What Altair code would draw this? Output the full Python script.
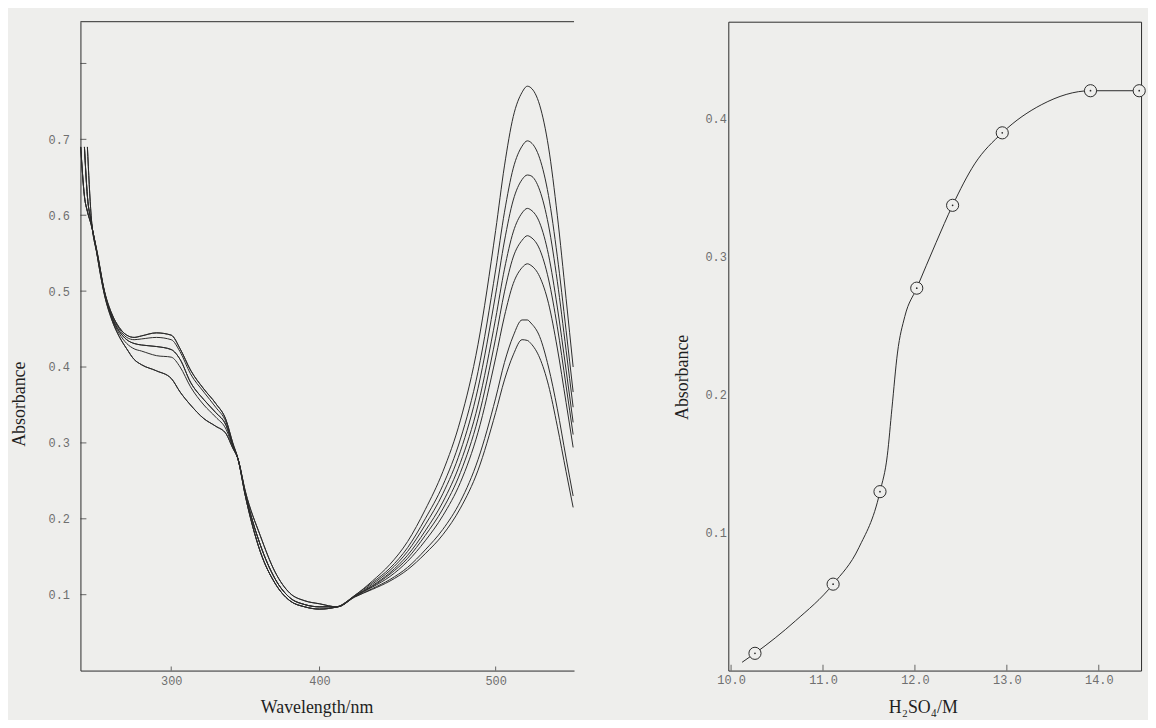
import altair as alt
import pandas as pd

# ---------------- left panel: absorption spectra ----------------
WAVELENGTH = [239, 241.5, 243.5, 246, 250, 255, 260, 265, 270, 275, 280, 290, 300, 306, 313,
              322, 330, 337, 341.5, 345, 350, 360, 370, 380, 390, 400, 410, 420, 430, 440,
              450, 460, 470, 480, 490, 500, 505, 510, 515, 518, 520, 525, 530, 535, 540, 544]

SPEC_1 = [0.690, 0.625, 0.605, 0.588, 0.552, 0.500, 0.470, 0.452, 0.442, 0.439, 0.441, 0.445, 0.442, 0.424, 0.396,
          0.371, 0.352, 0.330, 0.300, 0.279, 0.230, 0.157, 0.115, 0.092, 0.084, 0.081, 0.084, 0.099, 0.118, 0.140,
          0.170, 0.212, 0.262, 0.330, 0.430, 0.580, 0.665, 0.730, 0.762, 0.770, 0.768, 0.745, 0.690, 0.600, 0.490, 0.400]
SPEC_2 = [0.690, 0.625, 0.605, 0.588, 0.552, 0.500, 0.470, 0.452, 0.442, 0.439, 0.441, 0.445, 0.442, 0.424, 0.396,
          0.371, 0.352, 0.330, 0.300, 0.279, 0.230, 0.157, 0.115, 0.092, 0.084, 0.081, 0.084, 0.099, 0.116, 0.135,
          0.162, 0.200, 0.244, 0.305, 0.394, 0.528, 0.604, 0.662, 0.691, 0.698, 0.696, 0.675, 0.626, 0.546, 0.448, 0.367]
SPEC_3 = [0.690, 0.625, 0.605, 0.588, 0.551, 0.499, 0.468, 0.450, 0.439, 0.436, 0.437, 0.439, 0.436, 0.420, 0.391,
          0.367, 0.347, 0.327, 0.298, 0.279, 0.230, 0.157, 0.115, 0.092, 0.084, 0.081, 0.084, 0.098, 0.114, 0.132,
          0.157, 0.192, 0.233, 0.289, 0.372, 0.496, 0.566, 0.620, 0.647, 0.653, 0.652, 0.633, 0.587, 0.513, 0.422, 0.347]
SPEC_4 = [None, 0.690, 0.625, 0.592, 0.550, 0.498, 0.466, 0.447, 0.436, 0.431, 0.429, 0.427, 0.423, 0.410, 0.380,
          0.357, 0.340, 0.323, 0.297, 0.279, 0.233, 0.166, 0.121, 0.096, 0.087, 0.084, 0.084, 0.098, 0.112, 0.129,
          0.152, 0.184, 0.222, 0.274, 0.350, 0.464, 0.529, 0.578, 0.603, 0.609, 0.607, 0.590, 0.548, 0.479, 0.396, 0.327]
SPEC_5 = [None, 0.690, 0.625, 0.592, 0.550, 0.498, 0.466, 0.447, 0.436, 0.431, 0.429, 0.427, 0.423, 0.410, 0.380,
          0.357, 0.340, 0.323, 0.297, 0.279, 0.233, 0.166, 0.121, 0.096, 0.087, 0.084, 0.084, 0.098, 0.111, 0.127,
          0.148, 0.178, 0.213, 0.261, 0.332, 0.438, 0.499, 0.545, 0.567, 0.573, 0.571, 0.555, 0.516, 0.453, 0.375, 0.311]
SPEC_6 = [None, 0.690, 0.625, 0.592, 0.549, 0.497, 0.464, 0.444, 0.431, 0.424, 0.421, 0.415, 0.413, 0.400, 0.374,
          0.350, 0.334, 0.318, 0.295, 0.279, 0.233, 0.166, 0.121, 0.096, 0.087, 0.084, 0.084, 0.098, 0.110, 0.124,
          0.144, 0.171, 0.204, 0.248, 0.314, 0.412, 0.467, 0.510, 0.531, 0.536, 0.534, 0.519, 0.484, 0.425, 0.353, 0.294]
SPEC_7 = [None, None, 0.690, 0.600, 0.548, 0.495, 0.462, 0.440, 0.424, 0.410, 0.403, 0.395, 0.385, 0.367, 0.350,
          0.332, 0.322, 0.312, 0.293, 0.279, 0.236, 0.178, 0.130, 0.102, 0.092, 0.088, 0.084, 0.097, 0.108, 0.120,
          0.136, 0.159, 0.186, 0.223, 0.278, 0.359, 0.406, 0.441, 0.462, 0.462, 0.458, 0.440, 0.400, 0.345, 0.280, 0.230]
SPEC_8 = [None, None, 0.690, 0.600, 0.548, 0.495, 0.462, 0.440, 0.424, 0.410, 0.403, 0.395, 0.385, 0.367, 0.350,
          0.332, 0.322, 0.312, 0.293, 0.279, 0.236, 0.178, 0.130, 0.102, 0.092, 0.088, 0.084, 0.097, 0.107, 0.118,
          0.133, 0.154, 0.179, 0.214, 0.264, 0.340, 0.383, 0.416, 0.436, 0.435, 0.431, 0.412, 0.376, 0.322, 0.262, 0.215]

SPECTRA = {"s1": SPEC_1, "s2": SPEC_2, "s3": SPEC_3, "s4": SPEC_4,
           "s5": SPEC_5, "s6": SPEC_6, "s7": SPEC_7, "s8": SPEC_8}

WL_TICKS = [300, 400, 500]
ABS_TICKS_LEFT = [0.1, 0.2, 0.3, 0.4, 0.5, 0.6, 0.7]
ABS_TICKMARKS_LEFT = [0.1, 0.2, 0.3, 0.4, 0.5, 0.6, 0.7, 0.8]

# ---------------- right panel: absorbance vs acid ----------------
H2SO4 = [10.26, 11.11, 11.62, 12.02, 12.41, 12.95, 13.91, 14.44]
ABS_POINTS = [0.0125, 0.0626, 0.1296, 0.277, 0.337, 0.3895, 0.420, 0.420]
CURVE_X = [10.12, 10.26, 10.70, 11.11, 11.39, 11.62, 11.70, 11.75, 11.81, 11.89,
           12.02, 12.23, 12.41, 12.65, 12.95, 13.38, 13.91, 14.44, 14.46]
CURVE_Y = [0.006, 0.0125, 0.036, 0.0626, 0.089, 0.1296, 0.156, 0.190, 0.230, 0.2565,
           0.277, 0.310, 0.337, 0.367, 0.3895, 0.410, 0.420, 0.420, 0.420]
ACID_TICKS = [10.0, 11.0, 12.0, 13.0, 14.0]
ABS_TICKS_RIGHT = [0.1, 0.2, 0.3, 0.4]

BG = "#eeeeec"
INK = "#2a2a2a"
LABEL = "#6f6f6f"

# ---- left panel ----
rows = []
for name, vals in SPECTRA.items():
    for w, v in zip(WAVELENGTH, vals):
        if v is not None:
            rows.append({"wl": w, "A": v, "curve": name})
spec_df = pd.DataFrame(rows)

WL_MIN, WL_MAX = 238.8, 544.5
A_MIN, A_MAX = 0.0, 0.855
x_left = alt.Scale(domain=[WL_MIN, 300, 400, 500, WL_MAX], range=[0, 91.5, 241, 418.5, 497.5],
                   nice=False, zero=False)
y_left = alt.Scale(domain=[A_MIN, A_MAX], nice=False, zero=False)
XT_L = "Wavelength/nm"
YT = "Absorbance"

lines_left = alt.Chart(spec_df).mark_line(interpolate="monotone", color=INK, strokeWidth=1).encode(
    x=alt.X("wl:Q", scale=x_left, title=XT_L,
            axis=alt.Axis(values=WL_TICKS, format="d", ticks=False, tickSize=0, labelPadding=5,
                          domain=True, domainColor=INK, titlePadding=12, titleX=238, grid=False)),
    y=alt.Y("A:Q", scale=y_left, title=YT,
            axis=alt.Axis(values=ABS_TICKS_LEFT, format=".1f", ticks=False, tickSize=0, labelPadding=11,
                          domain=True, domainColor=INK, titlePadding=20, titleY=385, grid=False)),
    detail="curve:N",
)

ytick_df = pd.DataFrame({"v": ABS_TICKMARKS_LEFT, "x0": [WL_MIN] * len(ABS_TICKMARKS_LEFT)})
yticks_left = alt.Chart(ytick_df).mark_tick(orient="horizontal", size=6, thickness=1, xOffset=3, color=INK).encode(
    x=alt.X("x0:Q", scale=x_left, title=XT_L), y=alt.Y("v:Q", scale=y_left, title=YT))

xtick_df = pd.DataFrame({"v": WL_TICKS, "y0": [A_MIN] * len(WL_TICKS)})
xticks_left = alt.Chart(xtick_df).mark_tick(orient="vertical", size=4, thickness=1, yOffset=-2, color=INK).encode(
    x=alt.X("v:Q", scale=x_left, title=XT_L), y=alt.Y("y0:Q", scale=y_left, title=YT))

top_df = pd.DataFrame({"top": [A_MAX]})
top_rule = alt.Chart(top_df).mark_rule(color=INK, strokeWidth=1).encode(
    y=alt.Y("top:Q", scale=y_left, title=YT))

left = alt.layer(lines_left, yticks_left, xticks_left, top_rule).properties(
    width=497.5, height=654, view=alt.ViewBackground(stroke="transparent"))

# ---- right panel ----
pts_df = pd.DataFrame({"c": H2SO4, "A": ABS_POINTS})
curve_df = pd.DataFrame({"c": CURVE_X, "A": CURVE_Y})
C_MIN, C_MAX = 9.97, 14.46
R_MIN, R_MAX = 0.0, 0.47
x_right = alt.Scale(domain=[C_MIN, C_MAX], nice=False, zero=False)
y_right = alt.Scale(domain=[R_MIN, R_MAX], nice=False, zero=False)
XT_R = "H₂SO₄/M"

curve_right = alt.Chart(curve_df).mark_line(interpolate="monotone", color=INK, strokeWidth=1).encode(
    x=alt.X("c:Q", scale=x_right, title=XT_R,
            axis=alt.Axis(values=ACID_TICKS, format=".1f", ticks=False, tickSize=0, labelPadding=4,
                          domain=False, titlePadding=13, titleX=196, grid=False)),
    y=alt.Y("A:Q", scale=y_right, title=YT,
            axis=alt.Axis(values=ABS_TICKS_RIGHT, format=".1f", ticks=False, tickSize=0, labelPadding=2,
                          domain=False, titlePadding=14, titleY=358, grid=False)),
)
circles = alt.Chart(pts_df).mark_circle(size=150, fill=BG, stroke=INK, strokeWidth=1, opacity=1).encode(
    x=alt.X("c:Q", scale=x_right, title=XT_R), y=alt.Y("A:Q", scale=y_right, title=YT))
dots = alt.Chart(pts_df).mark_circle(size=3, color=INK, opacity=1).encode(
    x=alt.X("c:Q", scale=x_right, title=XT_R), y=alt.Y("A:Q", scale=y_right, title=YT))
atick_df = pd.DataFrame({"v": ACID_TICKS, "y0": [R_MIN] * len(ACID_TICKS)})
xticks_right = alt.Chart(atick_df).mark_tick(orient="vertical", size=6, thickness=1, yOffset=-3, color=INK).encode(
    x=alt.X("v:Q", scale=x_right, title=XT_R), y=alt.Y("y0:Q", scale=y_right, title=YT))

right = alt.layer(curve_right, circles, dots, xticks_right).properties(
    width=416, height=654, view=alt.ViewBackground(stroke=INK, strokeWidth=1))

chart = alt.hconcat(left, right, spacing=96).properties(
    padding={"left": 1, "top": 10, "right": 0, "bottom": 0},
    background=BG,
).configure_view(stroke=INK).configure_axis(
    labelFont="Liberation Mono", labelFontSize=12, labelColor=LABEL,
    titleFont="Liberation Serif", titleFontSize=18, titleFontWeight="normal", titleColor="#1e1e1e",
    grid=False,
)

chart.save("out.html", embed_options={"renderer": "svg", "actions": False})
